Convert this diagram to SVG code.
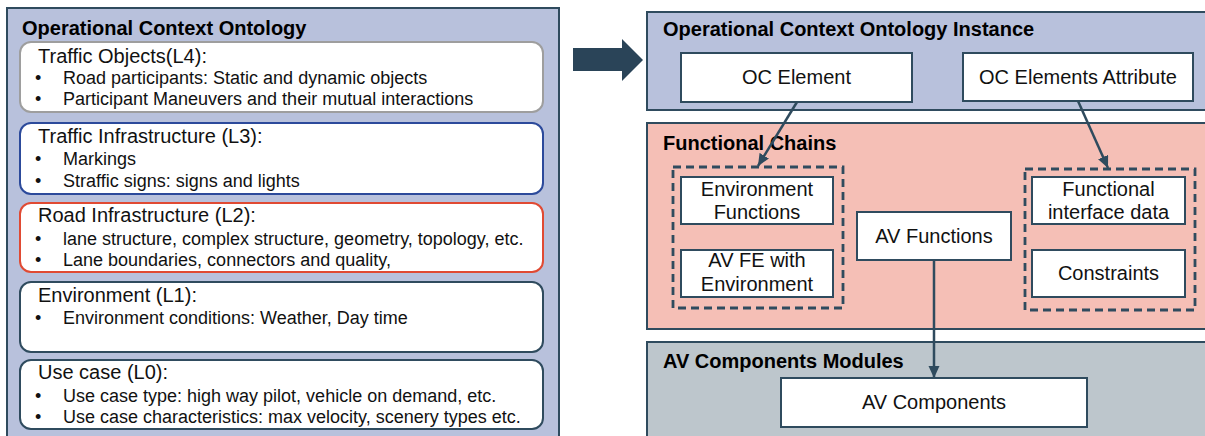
<svg xmlns="http://www.w3.org/2000/svg" width="1205" height="436" viewBox="0 0 1205 436">
<style>
.panel{stroke:#2F4B5E;stroke-width:2}
.box{fill:#fff;stroke:#2F4B5E;stroke-width:2}
.rbox{fill:#fff;stroke-width:2}
.title{font-family:"Liberation Sans",Arial,sans-serif;font-weight:bold;font-size:20px;fill:#000}
.head{font-family:"Liberation Sans",Arial,sans-serif;font-size:20px;fill:#111}
.item{font-family:"Liberation Sans",Arial,sans-serif;font-size:18px;fill:#111}
.lbl{font-family:"Liberation Sans",Arial,sans-serif;font-size:20px;fill:#111;text-anchor:middle}
.dash{fill:none;stroke:#2F4B5E;stroke-width:2.8;stroke-dasharray:8 5}
.conn{stroke:#2F4B5E;stroke-width:2.5;fill:none}
</style>
<defs>
<marker id="ah" markerWidth="14" markerHeight="12" refX="12" refY="5.5" orient="auto" markerUnits="userSpaceOnUse">
<path d="M0,0 L12,5.5 L0,11 Z" fill="#2F4B5E"/>
</marker>
</defs>
<rect width="1205" height="436" fill="#fff"/>

<g id="oco">
<rect class="panel" x="7" y="8" width="552" height="436" fill="#B8C1DC"/>
<text class="title" x="22" y="35">Operational Context Ontology</text>
</g>

<g id="l4">
<rect class="rbox" x="20" y="42" width="523" height="70" rx="11" stroke="#9E9E9E"/>
<text class="head" x="38" y="63">Traffic Objects(L4):</text>
<text class="item" x="35" y="84">•</text><text class="item" x="63" y="84">Road participants: Static and dynamic objects</text>
<text class="item" x="35" y="105">•</text><text class="item" x="63" y="105">Participant Maneuvers and their mutual interactions</text>
</g>
<g id="l3">
<rect class="rbox" x="20" y="123" width="523" height="71" rx="11" stroke="#2C4A9B"/>
<text class="head" x="38" y="143">Traffic Infrastructure (L3):</text>
<text class="item" x="35" y="165">•</text><text class="item" x="63" y="165">Markings</text>
<text class="item" x="35" y="187">•</text><text class="item" x="63" y="187">Straffic signs: signs and lights</text>
</g>
<g id="l2">
<rect class="rbox" x="20" y="203" width="523" height="69" rx="11" stroke="#E04A33"/>
<text class="head" x="38" y="222">Road Infrastructure (L2):</text>
<text class="item" x="35" y="245">•</text><text class="item" x="63" y="245">lane structure, complex structure, geometry, topology, etc.</text>
<text class="item" x="35" y="266">•</text><text class="item" x="63" y="266">Lane boundaries, connectors and quality,</text>
</g>
<g id="l1">
<rect class="box" x="20" y="282" width="523" height="70" rx="11"/>
<text class="head" x="38" y="302">Environment (L1):</text>
<text class="item" x="35" y="324">•</text><text class="item" x="63" y="324">Environment conditions: Weather, Day time</text>
</g>
<g id="l0">
<rect class="box" x="20" y="360" width="523" height="69" rx="11"/>
<text class="head" x="38" y="379">Use case (L0):</text>
<text class="item" x="35" y="402">•</text><text class="item" x="63" y="402">Use case type: high way pilot, vehicle on demand, etc.</text>
<text class="item" x="35" y="423">•</text><text class="item" x="63" y="423">Use case characteristics: max velocity, scenery types etc.</text>
</g>

<g id="bigarrow">
<polygon points="573,48 622,48 622,39 643,60 622,81 622,71 573,71" fill="#2A4458"/>
</g>

<g id="ocoi">
<rect class="panel" x="647" y="12" width="570" height="98" fill="#B8C1DC"/>
<text class="title" x="663" y="36">Operational Context Ontology Instance</text>
</g>
<g id="ocelement">
<rect class="box" x="681" y="53" width="231" height="49"/>
<text class="lbl" x="796.5" y="84">OC Element</text>
</g>
<g id="ocattr">
<rect class="box" x="963" y="53" width="230" height="48"/>
<text class="lbl" x="1078" y="84">OC Elements Attribute</text>
</g>

<g id="fc">
<rect class="panel" x="647" y="123" width="570" height="206" fill="#F5BFB6"/>
<text class="title" x="663" y="150">Functional Chains</text>
</g>
<g id="envgroup">
<rect class="dash" x="673" y="167" width="170" height="141"/>
</g>
<g id="envfunc">
<rect class="box" x="681" y="177" width="152" height="47"/>
<text class="lbl" x="757" y="196">Environment</text>
<text class="lbl" x="757" y="219">Functions</text>
</g>
<g id="avfe">
<rect class="box" x="681" y="250" width="152" height="47"/>
<text class="lbl" x="757" y="267">AV FE with</text>
<text class="lbl" x="757" y="291">Environment</text>
</g>
<g id="avfunc">
<rect class="box" x="857" y="212" width="154" height="48"/>
<text class="lbl" x="934" y="243">AV Functions</text>
</g>
<g id="ifgroup">
<rect class="dash" x="1025" y="169" width="170" height="141"/>
</g>
<g id="ifdata">
<rect class="box" x="1032" y="177" width="153" height="47"/>
<text class="lbl" x="1108.5" y="196">Functional</text>
<text class="lbl" x="1108.5" y="219">interface data</text>
</g>
<g id="constraints">
<rect class="box" x="1032" y="250" width="153" height="47"/>
<text class="lbl" x="1108.5" y="280">Constraints</text>
</g>

<g id="avcm">
<rect class="panel" x="647" y="342" width="570" height="110" fill="#BDC6CC"/>
<text class="title" x="663" y="368">AV Components Modules</text>
</g>
<g id="avcomp">
<rect class="box" x="781" y="378" width="306" height="49"/>
<text class="lbl" x="934" y="409">AV Components</text>
</g>

<g id="connectors">
<line class="conn" x1="797" y1="102" x2="758" y2="166" marker-end="url(#ah)"/>
<line class="conn" x1="1078" y1="101" x2="1108" y2="168" marker-end="url(#ah)"/>
<line class="conn" x1="934" y1="260" x2="934" y2="378" marker-end="url(#ah)"/>
</g>
</svg>
